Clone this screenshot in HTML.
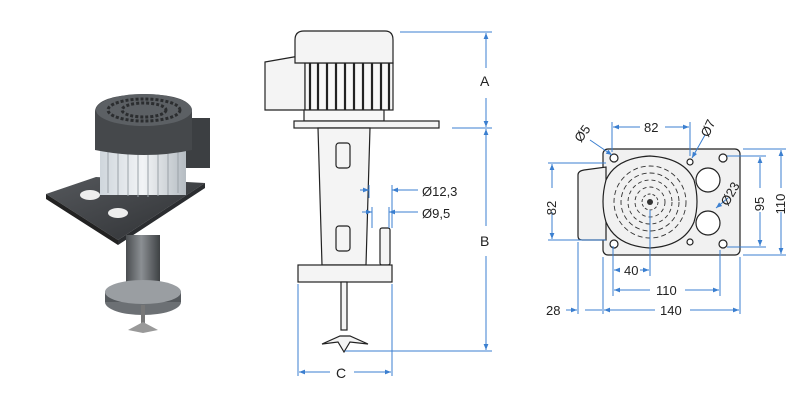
<!DOCTYPE html>
<html><head><meta charset="utf-8"><style>
html,body{margin:0;padding:0;background:#fff;width:800px;height:400px;overflow:hidden}
svg{display:block}
text{font-family:"Liberation Sans",sans-serif;fill:#222}
</style></head><body>
<svg width="800" height="400" viewBox="0 0 800 400" xmlns="http://www.w3.org/2000/svg">
<defs>
<marker id="ar" viewBox="0 0 10 10" refX="10" refY="5" markerWidth="6" markerHeight="6" orient="auto-start-reverse"><path d="M0,1 L10,5 L0,9 z" fill="#3b7fd0"/></marker>
<linearGradient id="fin" x1="0" x2="1"><stop offset="0" stop-color="#cfd6dc"/><stop offset=".5" stop-color="#f2f4f6"/><stop offset="1" stop-color="#b5bcc2"/></linearGradient>
<linearGradient id="col" x1="0" x2="1"><stop offset="0" stop-color="#4a4d50"/><stop offset=".45" stop-color="#8b8f93"/><stop offset="1" stop-color="#3e4144"/></linearGradient>
<linearGradient id="plate" x1="0" y1="0" x2="1" y2="1"><stop offset="0" stop-color="#55585c"/><stop offset="1" stop-color="#2e3033"/></linearGradient>
</defs>

<!-- 3D render -->
<g>
<polygon points="46,194 96,177 205,183 118,240" fill="url(#plate)"/>
<polygon points="46,194 118,240 118,245 46,199" fill="#222"/>
<polygon points="118,240 205,183 205,188 118,245" fill="#2b2d30"/>
<ellipse cx="90" cy="195" rx="10" ry="5" fill="#eee"/>
<ellipse cx="118" cy="213" rx="10" ry="5" fill="#eee"/>
<rect x="126" y="235" width="34" height="60" fill="url(#col)"/>
<ellipse cx="143" cy="302" rx="38" ry="13" fill="#6c7074"/>
<rect x="105" y="292" width="76" height="10" fill="#55595d"/>
<ellipse cx="143" cy="292" rx="38" ry="12" fill="#9a9ea2"/>
<rect x="141" y="305" width="4" height="20" fill="#777"/>
<path d="M128,330 L143,322 L158,330 L143,333 Z" fill="#999"/>
<rect x="100" y="150" width="86" height="45" fill="url(#fin)"/>
<g stroke="#9aa2a8" stroke-width="1"><line x1="108" y1="150" x2="108" y2="193"/><line x1="118" y1="150" x2="118" y2="195"/><line x1="128" y1="150" x2="128" y2="196"/><line x1="138" y1="150" x2="138" y2="197"/><line x1="148" y1="150" x2="148" y2="197"/><line x1="158" y1="150" x2="158" y2="196"/><line x1="168" y1="150" x2="168" y2="195"/><line x1="178" y1="150" x2="178" y2="193"/></g>
<rect x="186" y="118" width="24" height="50" fill="#3c3f42"/>
<path d="M95,112 Q95,95 145,94 Q192,95 192,112 L192,150 Q145,160 95,150 Z" fill="#45484b"/>
<ellipse cx="144" cy="110" rx="48" ry="16" fill="#5c6064"/>
<ellipse cx="144" cy="110" rx="36" ry="11" fill="none" stroke="#2b2d2f" stroke-width="3" stroke-dasharray="3 2"/>
<ellipse cx="144" cy="110" rx="22" ry="7" fill="none" stroke="#2b2d2f" stroke-width="3" stroke-dasharray="3 2"/>
</g>

<!-- Side view -->
<g stroke="#222" stroke-width="1.2" fill="#f4f4f4">
<path d="M265,62 L305,55 L305,110 L265,110 Z"/>
<rect x="305" y="63" width="88" height="47" fill="#f7f7f7"/>
<g stroke-width="2.2"><line x1="310" y1="63" x2="310" y2="110"/><line x1="318" y1="63" x2="318" y2="110"/><line x1="327" y1="63" x2="327" y2="110"/><line x1="336" y1="63" x2="336" y2="110"/><line x1="345" y1="63" x2="345" y2="110"/><line x1="354" y1="63" x2="354" y2="110"/><line x1="363" y1="63" x2="363" y2="110"/><line x1="372" y1="63" x2="372" y2="110"/><line x1="381" y1="63" x2="381" y2="110"/><line x1="389" y1="63" x2="389" y2="110"/></g>
<path d="M295,63 L295,40 Q295,31 304,31 L385,31 Q393,31 393,40 L393,63 Z"/>
<rect x="304" y="110" width="80" height="11" fill="#f7f7f7"/>
<rect x="294" y="121" width="145" height="7"/>
<path d="M318,128 L370,128 L366,265 L322,265 Z"/>
<rect x="336" y="143" width="14" height="25" rx="3"/>
<rect x="336" y="226" width="14" height="25" rx="3"/>
<rect x="380" y="228" width="10" height="37" rx="2"/>
<rect x="298" y="265" width="94" height="17"/>
<rect x="341" y="282" width="6" height="48"/>
<path d="M322,344 L340,336 L350,336 L368,344 L350,342 L344,352 L338,342 Z"/>
</g>
<g stroke="#3b7fd0" stroke-width="1" fill="none">
<line x1="400" y1="32" x2="492" y2="32"/><line x1="452" y1="128" x2="492" y2="128"/><line x1="345" y1="351" x2="492" y2="351"/>
<line x1="486" y1="68" x2="486" y2="33" marker-end="url(#ar)"/><line x1="486" y1="98" x2="486" y2="127" marker-end="url(#ar)"/>
<line x1="486" y1="226" x2="486" y2="129" marker-end="url(#ar)"/><line x1="486" y1="256" x2="486" y2="350" marker-end="url(#ar)"/>
<line x1="298" y1="284" x2="298" y2="376"/><line x1="392" y1="284" x2="392" y2="376"/>
<line x1="330" y1="372" x2="299" y2="372" marker-end="url(#ar)"/><line x1="354" y1="372" x2="391" y2="372" marker-end="url(#ar)"/>
<line x1="369" y1="185" x2="369" y2="198"/><line x1="392" y1="185" x2="392" y2="228"/>
<line x1="372" y1="207" x2="372" y2="228"/><line x1="389" y1="207" x2="389" y2="228"/>
<line x1="360" y1="190" x2="369" y2="190" marker-end="url(#ar)"/><line x1="418" y1="190" x2="392" y2="190" marker-end="url(#ar)"/>
<line x1="362" y1="212" x2="372" y2="212" marker-end="url(#ar)"/><line x1="418" y1="212" x2="389" y2="212" marker-end="url(#ar)"/>
</g>
<text x="480" y="86" font-size="14">A</text>
<text x="480" y="246" font-size="14">B</text>
<text x="336" y="378" font-size="14">C</text>
<text x="422" y="196" font-size="13">Ø12,3</text>
<text x="422" y="218" font-size="13">Ø9,5</text>

<!-- Top view -->
<g stroke="#222" stroke-width="1.2" fill="#f1f1f1">
<rect x="603" y="149" width="137" height="106" rx="5"/>
<path d="M578,175 Q578,171 584,170 L606,167 L606,240 L582,240 Q578,240 578,236 Z"/>
<path d="M650,156 Q684,158 694,180 Q700,202 694,222 Q684,246 650,248 Q616,246 606,222 Q600,202 606,180 Q616,158 650,156 Z"/>
<circle cx="708" cy="180" r="12" fill="#fff"/><circle cx="708" cy="223" r="12" fill="#fff"/>
<circle cx="614" cy="158" r="4" fill="#fff"/><circle cx="723" cy="158" r="4" fill="#fff"/>
<circle cx="614" cy="244" r="4" fill="#fff"/><circle cx="723" cy="244" r="4" fill="#fff"/>
<circle cx="690" cy="162" r="3" fill="#fff"/><circle cx="690" cy="242" r="3" fill="#fff"/>
</g>
<g fill="none" stroke="#333" stroke-width="0.9">
<circle cx="650" cy="202" r="36" stroke-dasharray="5 3"/>
<circle cx="650" cy="202" r="29" stroke-dasharray="5 3"/>
<circle cx="650" cy="202" r="22" stroke-dasharray="4 3"/>
<circle cx="650" cy="202" r="15" stroke-dasharray="4 3"/>
<circle cx="650" cy="202" r="8" stroke-dasharray="3 2"/>
</g>
<circle cx="650" cy="202" r="3" fill="#333"/>
<g stroke="#3b7fd0" stroke-width="1" fill="none">
<line x1="612" y1="122" x2="612" y2="152"/><line x1="690" y1="122" x2="690" y2="156"/>
<line x1="640" y1="127" x2="613" y2="127" marker-end="url(#ar)"/><line x1="665" y1="127" x2="689" y2="127" marker-end="url(#ar)"/>
<line x1="548" y1="163" x2="606" y2="163"/><line x1="548" y1="240" x2="606" y2="240"/>
<line x1="552" y1="188" x2="552" y2="164" marker-end="url(#ar)"/><line x1="552" y1="212" x2="552" y2="239" marker-end="url(#ar)"/>
<line x1="727" y1="156" x2="766" y2="156"/><line x1="727" y1="247" x2="766" y2="247"/>
<line x1="743" y1="149" x2="786" y2="149"/><line x1="743" y1="255" x2="786" y2="255"/>
<line x1="760" y1="188" x2="760" y2="157" marker-end="url(#ar)"/><line x1="760" y1="212" x2="760" y2="246" marker-end="url(#ar)"/>
<line x1="781" y1="188" x2="781" y2="150" marker-end="url(#ar)"/><line x1="781" y1="212" x2="781" y2="254" marker-end="url(#ar)"/>
<line x1="578" y1="242" x2="578" y2="314"/><line x1="603" y1="257" x2="603" y2="314"/>
<line x1="613" y1="246" x2="613" y2="296"/><line x1="650" y1="210" x2="650" y2="276"/>
<line x1="720" y1="250" x2="720" y2="296"/><line x1="740" y1="257" x2="740" y2="314"/>
<line x1="620" y1="270" x2="614" y2="270" marker-end="url(#ar)"/><line x1="640" y1="270" x2="649" y2="270" marker-end="url(#ar)"/>
<line x1="650" y1="290" x2="614" y2="290" marker-end="url(#ar)"/><line x1="685" y1="290" x2="719" y2="290" marker-end="url(#ar)"/>
<line x1="655" y1="310" x2="604" y2="310" marker-end="url(#ar)"/><line x1="690" y1="310" x2="739" y2="310" marker-end="url(#ar)"/>
<line x1="566" y1="310" x2="577" y2="310" marker-end="url(#ar)"/><line x1="585" y1="310" x2="602" y2="310"/>
<line x1="590" y1="140" x2="612" y2="155" marker-end="url(#ar)"/>
<line x1="705" y1="135" x2="692" y2="158" marker-end="url(#ar)"/>
<line x1="728" y1="198" x2="716" y2="208" marker-end="url(#ar)"/>
</g>
<g font-size="13">
<text x="644" y="132">82</text>
<text x="548" y="200" transform="rotate(-90 556 200)" text-anchor="middle">82</text>
<text x="760" y="200" transform="rotate(-90 764 200)" text-anchor="middle">95</text>
<text x="781" y="200" transform="rotate(-90 785 200)" text-anchor="middle">110</text>
<text x="624" y="275">40</text>
<text x="656" y="295">110</text>
<text x="660" y="315">140</text>
<text x="546" y="315">28</text>
<text x="586" y="136" transform="rotate(-55 586 136)" text-anchor="middle">Ø5</text>
<text x="712" y="130" transform="rotate(-65 712 130)" text-anchor="middle">Ø7</text>
<text x="734" y="196" transform="rotate(-60 734 196)" text-anchor="middle">Ø23</text>
</g>
</svg>
</body></html>
